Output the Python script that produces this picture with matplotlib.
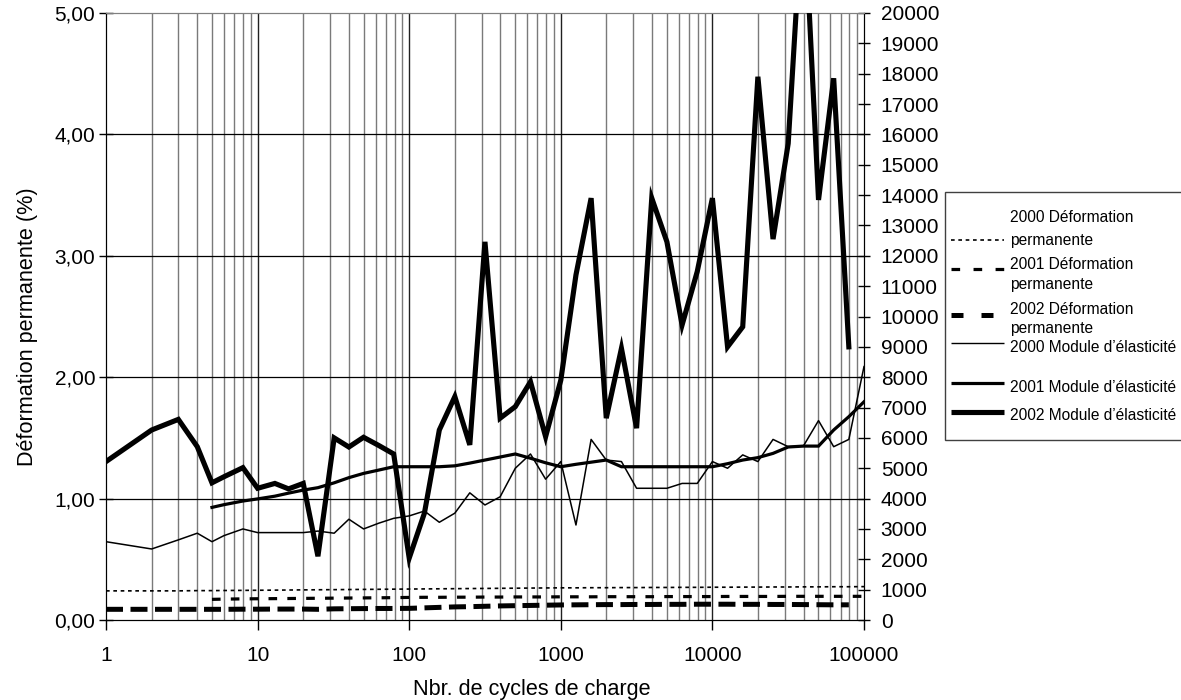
import matplotlib
matplotlib.use("Agg")
import matplotlib.pyplot as plt
from matplotlib.lines import Line2D
from matplotlib.patches import Rectangle
from matplotlib.ticker import FixedLocator, NullFormatter, FuncFormatter

plt.rcParams['font.family'] = ['Liberation Sans', 'DejaVu Sans']

# ---------------- data ----------------
cycles = [1, 2, 3, 4, 5, 6, 8, 10, 13, 16, 20, 25, 32, 40, 50, 63, 79, 100,
          126, 158, 200, 251, 316, 398, 501, 631, 794, 1000, 1259, 1585, 1995,
          2512, 3162, 3981, 5012, 6310, 7943, 10000, 12589, 15849, 19953,
          25119, 31623, 39811, 50119, 63096, 79433, 100000]

def_2000 = [0.240, 0.240, 0.240, 0.242, 0.242, 0.243, 0.244, 0.245, 0.246, 0.247,
            0.248, 0.249, 0.250, 0.251, 0.252, 0.253, 0.254, 0.255, 0.256, 0.257,
            0.258, 0.259, 0.260, 0.261, 0.262, 0.263, 0.264, 0.265, 0.265, 0.266,
            0.266, 0.267, 0.267, 0.268, 0.268, 0.269, 0.269, 0.270, 0.270, 0.271,
            0.271, 0.272, 0.272, 0.273, 0.273, 0.274, 0.274, 0.275]

cycles_2001 = cycles[4:]
def_2001 = [0.170, 0.172, 0.174, 0.175, 0.176, 0.177, 0.178, 0.179, 0.180, 0.181,
            0.182, 0.183, 0.184, 0.186, 0.187, 0.187, 0.188, 0.188, 0.189, 0.189,
            0.190, 0.190, 0.190, 0.191, 0.191, 0.191, 0.192, 0.192, 0.192, 0.192,
            0.193, 0.193, 0.193, 0.193, 0.194, 0.194, 0.194, 0.194, 0.195, 0.195,
            0.195, 0.195, 0.195, 0.195]

cycles_2002 = cycles[:-1]
def_2002 = [0.088, 0.088, 0.088, 0.088, 0.088, 0.088, 0.089, 0.089, 0.090, 0.090,
            0.090, 0.088, 0.092, 0.093, 0.094, 0.095, 0.095, 0.096, 0.100, 0.104,
            0.108, 0.110, 0.113, 0.116, 0.118, 0.120, 0.122, 0.124, 0.125, 0.126,
            0.127, 0.127, 0.128, 0.128, 0.129, 0.129, 0.130, 0.130, 0.130, 0.129,
            0.129, 0.128, 0.128, 0.127, 0.126, 0.125, 0.125]

mod_2000 = [2580, 2340, 2640, 2860, 2580, 2780, 3000, 2880, 2880, 2880, 2880, 2930,
            2860, 3320, 3000, 3190, 3350, 3430, 3590, 3220, 3520, 4190, 3790, 4060,
            5000, 5470, 4640, 5220, 3130, 5950, 5270, 5220, 4340, 4340, 4340, 4500,
            4500, 5220, 5000, 5440, 5220, 5950, 5710, 5730, 6570, 5710, 5950, 8350]

mod_2001 = [3710, 3800, 3920, 3990, 4080, 4180, 4280, 4360, 4520, 4690, 4830, 4940,
            5050, 5050, 5050, 5050, 5080, 5170, 5270, 5370, 5470, 5330, 5180, 5050,
            5130, 5200, 5270, 5050, 5050, 5050, 5050, 5050, 5050, 5050, 5150, 5270,
            5350, 5490, 5700, 5730, 5730, 6260, 6700, 7190]

mod_2002 = [5220, 6260, 6610, 5710, 4520, 4720, 5020, 4340, 4500, 4320, 4500, 2100,
            6000, 5700, 6020, 5750, 5470, 2040, 3520, 6260, 7360, 5770, 12460, 6650,
            7030, 7850, 6040, 7900, 11370, 13900, 6650, 8950, 6320, 13900, 12460,
            9720, 11480, 13900, 9000, 9660, 17900, 12550, 15700, 24000, 13840, 17850,
            9000]

x_ticks = [1, 10, 100, 1000, 10000, 100000]
x_tick_labels = ["1", "10", "100", "1000", "10000", "100000"]
left_ticks = [0, 1, 2, 3, 4, 5]
right_ticks = list(range(0, 20001, 1000))

legend_labels = [["2000 Déformation", "permanente"],
                 ["2001 Déformation", "permanente"],
                 ["2002 Déformation", "permanente"],
                 ["2000 Module d’élasticité"],
                 ["2001 Module d’élasticité"],
                 ["2002 Module d’élasticité"]]

x_label = "Nbr. de cycles de charge"
y_label = "Déformation permanente (%)"

# ---------------- figure ----------------
W, H = 1181, 700
fig = plt.figure(figsize=(W / 100, H / 100), dpi=100)
L, R, T, B = 106, 864, 13, 620
ax = fig.add_axes([L / W, 1 - B / H, (R - L) / W, (B - T) / H])
ax2 = ax.twinx()

TICK_FS = 15
LABEL_FS = 15.6

ax.set_xscale('log')
ax.set_xlim(1, 100000)
ax.set_ylim(0, 5)
ax2.set_ylim(0, 20000)

# grid
minor_pos = [m * 10 ** d for d in range(0, 5) for m in range(2, 10)]
for xm in minor_pos:
    ax.axvline(xm, color='#7a7a7a', lw=1.0, zorder=0.5)
for xm in x_ticks[1:-1]:
    ax.axvline(xm, color='#202020', lw=1.0, zorder=0.5)
for yv in left_ticks[1:-1]:
    ax.axhline(yv, color='black', lw=0.9, zorder=0.5)

# deformation series (left axis)
ax.plot(cycles, def_2000, color='black', lw=1.2, linestyle=(0, (2.2, 2.2)), zorder=2)
ax.plot(cycles_2001, def_2001, color='black', lw=2.3, linestyle=(0, (2.7, 3.2)), zorder=2)
ax.plot(cycles_2002, def_2002, color='black', lw=3.6, linestyle=(0, (3.4, 1.5)), zorder=2)

# modulus series (right axis)
ax2.plot(cycles, mod_2000, color='black', lw=1.1, zorder=3)
ax2.plot(cycles_2001, mod_2001, color='black', lw=2.3, zorder=3, solid_joinstyle='miter')
ax2.plot(cycles_2002, mod_2002, color='black', lw=3.7, zorder=3, solid_joinstyle='miter')

# ticks
ax.xaxis.set_major_locator(FixedLocator(x_ticks))
ax.set_xticklabels(x_tick_labels, fontsize=TICK_FS)
ax.xaxis.set_minor_formatter(NullFormatter())
ax.tick_params(axis='x', which='major', direction='out', length=7, width=1, pad=12)
ax.tick_params(axis='x', which='minor', length=0)

ax.yaxis.set_major_locator(FixedLocator(left_ticks))
ax.yaxis.set_major_formatter(FuncFormatter(lambda v, p: f"{v:.2f}".replace('.', ',')))
ax.tick_params(axis='y', which='major', direction='inout', length=9.5, width=1,
               pad=3, labelsize=TICK_FS)

ax2.yaxis.set_major_locator(FixedLocator(right_ticks))
ax2.yaxis.set_major_formatter(FuncFormatter(lambda v, p: f"{int(v)}"))
ax2.tick_params(axis='y', which='major', direction='inout', length=9, width=1,
                pad=7.5, labelsize=TICK_FS)

for s in ['left', 'bottom', 'right']:
    ax.spines[s].set_color('black')
    ax2.spines[s].set_color('black')
ax.spines['top'].set_color('#808080')
ax2.spines['top'].set_color('#808080')

# axis labels
fig.text(28 / W, 1 - 327 / H, y_label, rotation=90, ha='center', va='center',
         fontsize=LABEL_FS)
fig.text(413 / W, 1 - 689 / H, x_label, ha='left', va='center', fontsize=LABEL_FS)

# ---------------- legend (manual) ----------------
def fx(x):
    return x / W

def fy(y):
    return 1 - y / H

box = Rectangle((fx(945), fy(440)), fx(1200) - fx(945), fy(192) - fy(440),
                transform=fig.transFigure, facecolor='white', edgecolor='#404040',
                lw=1.0, zorder=5, clip_on=False)
fig.add_artist(box)

LEG_FS = 11.2
samples = [
    dict(y=240, lw=1.2, ls=(0, (2.2, 2.2))),
    dict(y=269, lw=2.3, ls=(0, (2.7, 4.2))),
    dict(y=315, lw=3.6, ls=(0, (2.4, 3.6))),
    dict(y=343, lw=1.0, ls='-'),
    dict(y=383, lw=2.3, ls='-'),
    dict(y=412, lw=3.7, ls='-'),
]
text_y = [[218, 240], [264, 285], [309, 329], [348], [388], [415]]
for smp, labs, tys in zip(samples, legend_labels, text_y):
    fig.add_artist(Line2D([fx(951), fx(1004)], [fy(smp['y']), fy(smp['y'])],
                          transform=fig.transFigure, color='black', lw=smp['lw'],
                          linestyle=smp['ls'], zorder=6, solid_capstyle='butt',
                          dash_capstyle='butt'))
    for lab, ty in zip(labs, tys):
        fig.text(fx(1010), fy(ty), lab, ha='left', va='center', fontsize=LEG_FS,
                 zorder=6)

fig.savefig("out.png", dpi=100)
